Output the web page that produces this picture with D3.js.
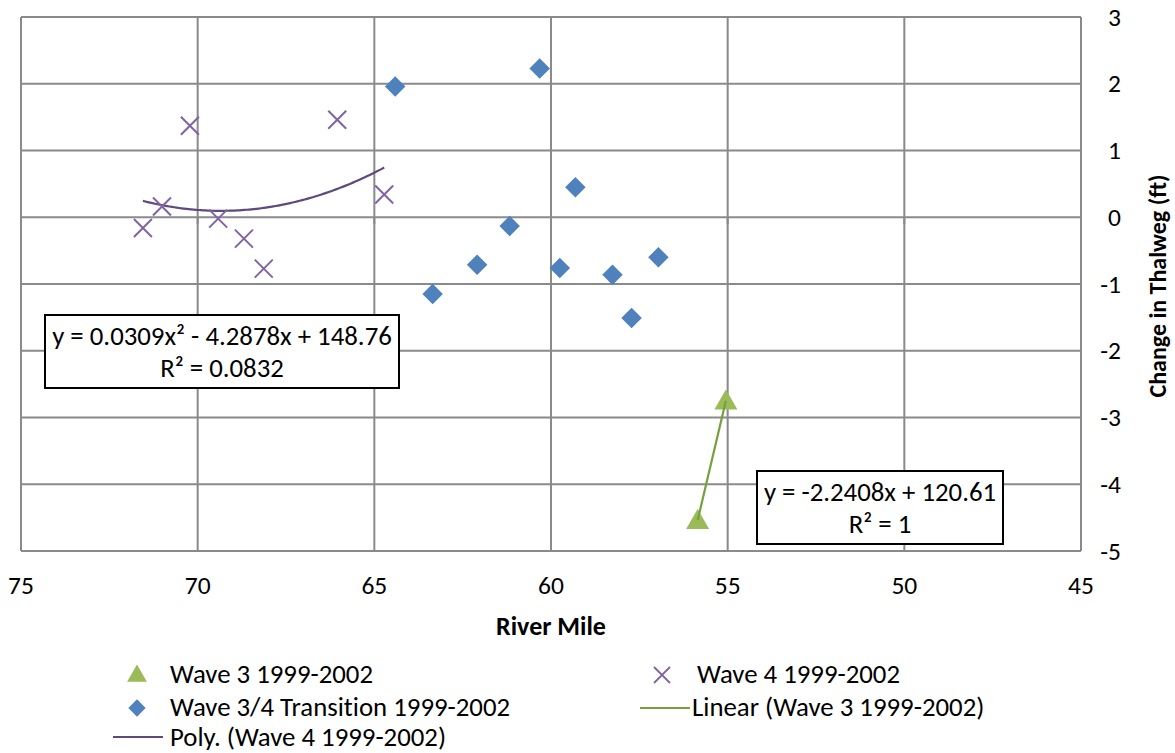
<!DOCTYPE html>
<html><head><meta charset="utf-8">
<script src="https://cdn.jsdelivr.net/npm/d3@7"></script>
<style>
body{margin:0;background:#fff;}
svg{display:block;font-family:Carlito,Calibri,Lato,"Open Sans",sans-serif;font-variant-ligatures:none;}
</style></head>
<body><svg id="c" width="1175" height="753"></svg>
<script>
// ---- data ----
const wave3Mile = [55.05, 55.85];
const wave3Change = [-2.75, -4.54];
const wave4Mile = [71.55, 71.01, 70.22, 69.42, 68.69, 68.13, 66.05, 64.72];
const wave4Change = [-0.16, 0.16, 1.37, -0.02, -0.32, -0.77, 1.46, 0.34];
const transMile = [64.41, 60.32, 59.31, 61.17, 62.09, 63.35, 59.75, 58.26, 56.96, 57.72];
const transChange = [1.96, 2.23, 0.45, -0.13, -0.71, -1.15, -0.76, -0.86, -0.60, -1.51];
const xTicks = [75, 70, 65, 60, 55, 50, 45];
const yTicks = [3, 2, 1, 0, -1, -2, -3, -4, -5];
const polyLabel = ["y = 0.0309x² - 4.2878x + 148.76", "R² = 0.0832"];
const linLabel = ["y = -2.2408x + 120.61", "R² = 1"];
const legendItems = [
  {name:"Wave 3 1999-2002", type:"triangle"},
  {name:"Wave 4 1999-2002", type:"x"},
  {name:"Wave 3/4 Transition 1999-2002", type:"diamond"},
  {name:"Linear (Wave 3 1999-2002)", type:"linLine"},
  {name:"Poly. (Wave 4 1999-2002)", type:"polyLine"}
];

const C = {tri:"#9BBB59", x:"#8064A2", dia:"#4F81BD", lin:"#77A03C", poly:"#5F4A7E", grid:"#8A8A8A"};
const FS = 26.8;

const svg = d3.select("#c");
const L = 21, R = 1081, T = 17, B = 551;
const x = d3.scaleLinear().domain([75, 45]).range([L, R]);
const y = d3.scaleLinear().domain([-5, 3]).range([B, T]);

// grid
const g = svg.append("g");
g.selectAll(".vg").data(xTicks).join("line")
  .attr("x1", d=>x(d)).attr("x2", d=>x(d)).attr("y1", T).attr("y2", B)
  .attr("stroke", C.grid).attr("stroke-width", 2);
g.selectAll(".hg").data(yTicks).join("line")
  .attr("x1", L).attr("x2", R).attr("y1", d=>y(d)).attr("y2", d=>y(d))
  .attr("stroke", C.grid).attr("stroke-width", 2);
// x-axis ticks at y=0
g.selectAll(".xt").data(xTicks).join("line")
  .attr("x1", d=>x(d)).attr("x2", d=>x(d)).attr("y1", y(0)).attr("y2", y(0)+7)
  .attr("stroke", C.grid).attr("stroke-width", 2);

// tick labels
svg.append("g").selectAll("text").data(xTicks).join("text")
  .attr("x", d=>x(d)).attr("y", 594).attr("text-anchor","middle")
  .attr("font-size", 25.5).attr("fill","#000").text(d=>d);
svg.append("g").selectAll("text").data(yTicks).join("text")
  .attr("x", 1121).attr("y", d=>y(d)+8.5).attr("text-anchor","end")
  .attr("font-size", 25.5).attr("fill","#000").text(d=>d);

// axis titles
svg.append("text").attr("x", (L+R)/2).attr("y", 635).attr("text-anchor","middle")
  .attr("font-size", 26).attr("font-weight","bold").text("River Mile");
svg.append("text").attr("transform", `translate(1166,${(T+B)/2+2}) rotate(-90)`)
  .attr("text-anchor","middle").attr("font-size", 24).attr("font-weight","bold")
  .text("Change in Thalweg (ft)");

// trend lines
function polyFit(xs, ys){
  const n = xs.length;
  let S = Array(5).fill(0), T2 = Array(3).fill(0);
  for(let i=0;i<n;i++){
    for(let k=0;k<5;k++) S[k]+=Math.pow(xs[i],k);
    for(let k=0;k<3;k++) T2[k]+=ys[i]*Math.pow(xs[i],k);
  }
  const M = [[S[0],S[1],S[2],T2[0]],[S[1],S[2],S[3],T2[1]],[S[2],S[3],S[4],T2[2]]];
  for(let i=0;i<3;i++){
    let p=i; for(let r=i+1;r<3;r++) if(Math.abs(M[r][i])>Math.abs(M[p][i])) p=r;
    [M[i],M[p]]=[M[p],M[i]];
    for(let r=0;r<3;r++){ if(r===i) continue; const f=M[r][i]/M[i][i]; for(let c=i;c<4;c++) M[r][c]-=f*M[i][c]; }
  }
  return [M[0][3]/M[0][0], M[1][3]/M[1][1], M[2][3]/M[2][2]];
}
const pc = polyFit(wave4Mile, wave4Change);
const pExt = d3.extent(wave4Mile);
const polyPts = d3.range(0, 101).map(i=>{ const m = pExt[0] + (pExt[1]-pExt[0])*i/100; return [m, pc[0]+pc[1]*m+pc[2]*m*m]; });
const line = d3.line().x(d=>x(d[0])).y(d=>y(d[1]));
svg.append("path").attr("d", line(polyPts)).attr("fill","none").attr("stroke", C.poly).attr("stroke-width", 2.2);

const linPts = wave3Mile.map((m,i)=>[m, wave3Change[i]]);

// markers
const sym = {
  triangle: d3.symbol().type(d3.symbolTriangle).size(230),
  diamond: d3.symbol().type(d3.symbolSquare).size(210)
};
svg.append("g").selectAll("path").data(transMile.map((m,i)=>[m, transChange[i]])).join("path")
  .attr("d", sym.diamond()).attr("transform", d=>`translate(${x(d[0])},${y(d[1])}) rotate(45)`).attr("fill", C.dia);
svg.append("g").selectAll("path").data(wave4Mile.map((m,i)=>[m, wave4Change[i]])).join("path")
  .attr("d", "M-9,-9L9,9M-9,9L9,-9").attr("transform", d=>`translate(${x(d[0])},${y(d[1])})`)
  .attr("stroke", C.x).attr("stroke-width", 2).attr("fill","none");
svg.append("g").selectAll("path").data(linPts).join("path")
  .attr("d", sym.triangle()).attr("transform", d=>`translate(${x(d[0])},${y(d[1])+2})`).attr("fill", C.tri);
svg.append("path").attr("d", line(linPts)).attr("fill","none").attr("stroke", C.lin).attr("stroke-width", 2.2);

// equation boxes
function eqBox(x0, y0, w, h, lines){
  const gb = svg.append("g");
  gb.append("rect").attr("x", x0).attr("y", y0).attr("width", w).attr("height", h)
    .attr("fill","#fff").attr("stroke","#000").attr("stroke-width", 2);
  lines.forEach((t,i)=> gb.append("text").attr("x", x0+w/2).attr("y", y0+30+i*32)
    .attr("text-anchor","middle").attr("font-size", FS).text(t));
}
eqBox(45, 315, 354, 73, polyLabel);
eqBox(757, 471, 246, 73, linLabel);

// legend
const legPos = [[137,675],[662,675],[137,708],[662,708],[137,740]];
const legBase = [683, 683, 716, 716, 746];
const lg = svg.append("g");
legendItems.forEach((it,i)=>{
  const [mx,my] = legPos[i];
  if(it.type==="triangle") lg.append("path").attr("d", d3.symbol().type(d3.symbolTriangle).size(170)()).attr("transform",`translate(${mx},${my+1})`).attr("fill", C.tri);
  if(it.type==="diamond") lg.append("path").attr("d", d3.symbol().type(d3.symbolSquare).size(150)()).attr("transform",`translate(${mx},${my}) rotate(45)`).attr("fill", C.dia);
  if(it.type==="x") lg.append("path").attr("d","M-8,-8L8,8M-8,8L8,-8").attr("transform",`translate(${mx},${my})`).attr("stroke", C.x).attr("stroke-width",1.8);
  if(it.type==="linLine") lg.append("line").attr("x1", mx-22).attr("x2", mx+28).attr("y1", my).attr("y2", my).attr("stroke", C.lin).attr("stroke-width", 2.2);
  if(it.type==="polyLine") lg.append("line").attr("x1", mx-24).attr("x2", mx+26).attr("y1", my-3).attr("y2", my-3).attr("stroke", C.poly).attr("stroke-width", 2.2);
  const tx = it.type==="polyLine" ? 170 : it.type==="linLine" ? 692 : (mx < 400 ? 170 : 697);
  lg.append("text").attr("x", tx).attr("y", legBase[i]).attr("font-size", FS).text(it.name);
});
</script></body></html>
